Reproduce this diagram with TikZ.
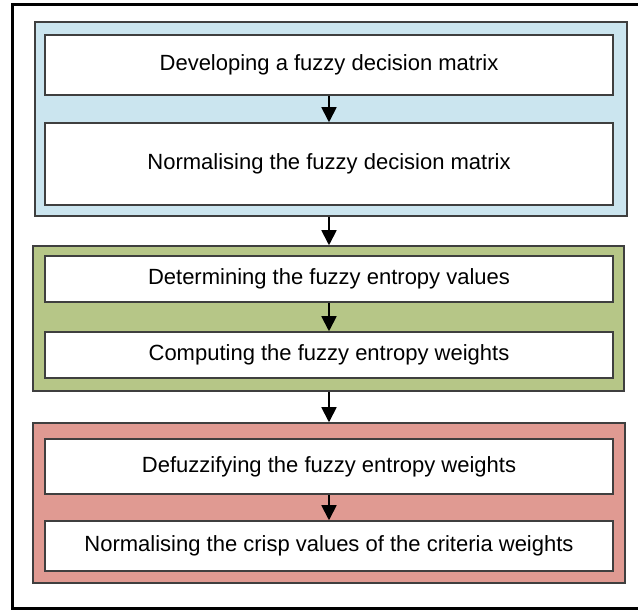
\documentclass[tikz,border=0pt]{standalone}
\usepackage{fontspec}
\setmainfont{Liberation Sans}
\usetikzlibrary{arrows.meta}
\definecolor{bluefill}{HTML}{CBE5EF}
\definecolor{greenfill}{HTML}{B6C687}
\definecolor{redfill}{HTML}{E09A92}
\definecolor{edgegray}{HTML}{3F3F3F}
\tikzset{
  x=1pt, y=-1pt,
  group/.style={draw=edgegray, line width=1.5pt, inner sep=0pt},
  stepbox/.style={draw=edgegray, line width=1.5pt, fill=white, minimum width=568pt,
    inner sep=0pt, font=\fontsize{22}{26}\selectfont},
  arr/.style={line width=1.8pt, -{Triangle[width=15pt,length=15pt]}}
}
\begin{document}
\begin{tikzpicture}
\useasboundingbox (0,0) rectangle (638,612);
\clip (0,0) rectangle (638,612);
\fill[white] (0,0) rectangle (638,612);
\node[draw=black, line width=3pt, minimum width=636pt, minimum height=603pt, inner sep=0pt] (frame) at (330,306.5) {};
% groups
\node[group, fill=bluefill, minimum width=592pt, minimum height=194pt] (blue) at (331,119) {};
\node[group, fill=greenfill, minimum width=591pt, minimum height=145pt] (green) at (328.5,318.5) {};
\node[group, fill=redfill, minimum width=592pt, minimum height=160pt] (red) at (329,503) {};
% steps
\node[stepbox, minimum height=60pt] (b1) at (329,65) {Developing a fuzzy decision matrix};
\node[stepbox, minimum height=82pt] (b2) at (329,164) {Normalising the fuzzy decision matrix};
\node[stepbox, minimum height=46pt] (g1) at (329,279) {Determining the fuzzy entropy values};
\node[stepbox, minimum height=46pt] (g2) at (329,355) {Computing the fuzzy entropy weights};
\node[stepbox, minimum height=55pt] (r1) at (329,466.5) {Defuzzifying the fuzzy entropy weights};
\node[stepbox, minimum height=50pt] (r2) at (329,546) {Normalising the crisp values of the criteria weights};
% arrows
\draw[arr] (b1.south) -- (b2.north);
\draw[arr] (b2.south |- blue.south) -- (g1.north |- green.north);
\draw[arr] (g1.south) -- (g2.north);
\draw[arr] (g2.south |- green.south) -- (r1.north |- red.north);
\draw[arr] (r1.south) -- (r2.north);
\end{tikzpicture}
\end{document}
